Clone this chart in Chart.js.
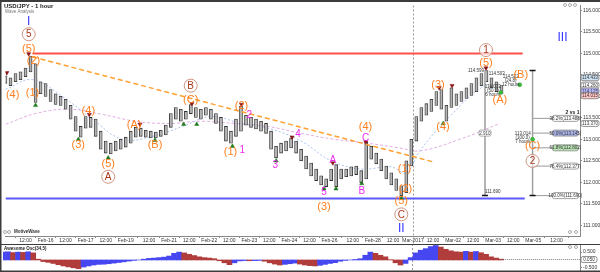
<!DOCTYPE html>
<html><head><meta charset="utf-8">
<script src="https://cdn.jsdelivr.net/npm/chart.js@4.4.1/dist/chart.umd.min.js"></script>
<style>
html,body{margin:0;padding:0;background:#fff;}
#wrap{position:relative;width:600px;height:272px;overflow:hidden;background:#fff;}
#c1{position:absolute;left:0;top:0;}
#c2{position:absolute;left:0;top:244px;}
</style></head><body>
<div id="wrap"><canvas id="c1" width="600" height="244"></canvas><canvas id="c2" width="600" height="28"></canvas></div>
<script>
// ---------- DATA ----------
// hourly bar index of each 3-hour candle
const barIdx = Array.from({length:100},(_,i)=>i*3);
const highs = [
114.48,114.43,114.53,114.57,114.66,114.94,114.76,114.34,114.30,114.16,
114.06,114.00,113.93,113.79,113.53,113.30,113.53,113.51,113.47,113.19,
112.96,112.91,112.96,113.00,113.05,113.19,113.28,113.26,113.21,113.19,
113.17,113.21,113.33,113.60,113.74,113.70,113.65,113.81,113.74,113.70,
113.74,113.70,113.60,113.51,113.30,113.19,113.47,113.77,113.56,113.51,
113.47,113.42,113.37,113.19,112.84,112.91,112.96,113.03,112.96,112.77,
112.61,112.45,112.31,112.15,112.08,112.31,112.41,112.31,112.31,112.36,
112.38,112.27,112.94,112.84,112.68,112.54,112.38,112.22,112.08,111.92,
112.50,113.00,113.53,113.74,113.83,113.93,114.11,114.16,113.79,114.20,
114.06,114.11,114.20,114.30,114.43,114.53,114.60,114.43,114.34,114.25];
const lows = [
114.30,114.25,114.34,114.39,114.46,114.57,113.86,114.06,114.00,113.88,
113.81,113.79,113.70,113.47,113.19,113.05,113.26,113.28,113.07,112.77,
112.68,112.66,112.73,112.77,112.82,112.91,113.05,113.07,113.05,113.03,
113.03,113.07,113.10,113.28,113.47,113.42,113.47,113.60,113.51,113.47,
113.56,113.47,113.37,113.19,112.96,112.91,113.07,113.19,113.33,113.28,
113.24,113.19,113.14,112.77,112.57,112.68,112.73,112.80,112.68,112.50,
112.31,112.15,112.04,111.94,111.90,112.04,111.90,112.08,112.13,112.15,
112.18,111.99,112.08,112.54,112.43,112.27,112.08,111.94,111.81,111.69,
111.76,112.38,112.96,113.42,113.56,113.65,113.79,113.70,113.42,113.74,
113.79,113.88,113.95,114.02,114.11,114.25,114.34,114.20,114.11,114.06];
const aoValues = [
0.50,0.52,0.47,0.50,0.48,0.52,0.45,0.05,-0.10,-0.15,
-0.22,-0.30,-0.38,-0.44,-0.50,-0.55,-0.45,-0.38,-0.32,-0.28,
-0.27,-0.24,-0.20,-0.16,-0.12,-0.07,-0.03,0.00,0.05,0.10,
0.12,0.15,0.18,0.25,0.42,0.50,0.45,0.36,0.28,0.20,
0.15,0.12,0.08,-0.05,-0.18,-0.30,-0.18,-0.06,-0.04,-0.05,
-0.04,-0.03,-0.08,-0.18,-0.26,-0.32,-0.28,-0.24,-0.20,-0.26,
-0.32,-0.36,-0.38,-0.34,-0.28,-0.22,-0.17,-0.08,-0.03,0.00,
0.03,0.08,0.30,0.50,0.42,0.30,0.20,0.02,-0.18,-0.32,
-0.22,0.15,0.45,0.62,0.72,0.85,0.92,0.82,0.68,0.58,
0.52,0.50,0.55,0.50,0.54,0.46,0.36,0.20,0.12,0.05];

// slow (pink) and fast (light blue) moving averages
const maSlowIdx = [0,18,38,58,78,98,117,137,157,177,197,217,236,248,272,296];
const maSlowVal = [113.35,113.60,113.70,113.58,113.42,113.37,113.42,113.37,113.30,113.14,113.00,112.91,112.80,112.73,113.00,113.37];
const maFastIdx = [0,16,34,52,70,88,106,123,141,159,177,195,213,231,240,248,266,287,297];
const maFastVal = [114.16,114.39,114.00,113.47,113.00,113.07,113.30,113.53,113.37,113.24,112.96,112.50,112.31,112.36,112.22,112.73,113.53,114.25,114.20];

// x-axis tick labels (hour index / text)
const tickIdx = [12,24,36,48,60,72,86,98,110,122,134,146,158,170,182,194,208,220,232,244,256,268,280,292,304,316,330];
const tickText = ['12:00','Feb-16','12:00','Feb-17','12:00','Feb-19','12:00','Feb-21','12:00','Feb-22','12:00','Feb-23','12:00','Feb-24','12:00','Feb-26','12:00','Feb-28','12:00','Mar-2017','12:00','Mar-02','12:00','Mar-03','12:00','Mar-05','12:00'];
const yTicks = [111,111.5,112,112.5,113,113.5,114,114.5,115,115.5,116];
const aoTicks = [-0.5,0.5];

// horizontal levels
const resistance = 115.00, support = 111.62;
const resistanceSpan = [16.3, 309.7];
const supportSpan = [0, 310.9];
// orange dashed trendline endpoints
const trendIdx = [16.3, 256.2];
const trendVal = [114.917, 112.474];
// fib retracement
const fibHigh = 114.60, fibLow = 111.69;
const fibNames = ['38.2%','50.0%','61.8%','76.4%','100.0%'];
const fibPrices = [113.488,113.145,112.802,112.377,111.690];
const fibColors = ['#ffffff','#aab4ea','#b9e3b3','#ffffff','#ffffff'];
const fibLineIdx = 315.6, fibEndIdx = 327.5, measureIdx = 287.1;

// pivot markers
const peakIdx = [0.8,13.9,50.2,80.5,111.6,141.3,171.6,196,215.7,259.7,267.4,287.7];
const peakVal = [114.55,114.99,113.58,113.35,113.83,113.81,113.05,112.45,112.94,114.20,114.25,114.66];
const lowIdx = [18,43.6,61.5,89.5,106.7,114.5,135.9,162.1,190.7,197.9,213.3,237.1,262.1];
const lowVal = [113.79,113.00,112.57,112.98,113.35,113.35,112.84,112.50,111.85,111.85,111.97,111.63,113.37];
const targetIdx = [296.6,307.9,315.6];
const targetVal = [114.09,114.27,113.00];

// wave labels: text, hour index, price, kind (o=orange, c=circled, m=magenta, r=roman)
const waveLabels = [
['I',13.9,115.75,'r'],['5',13.9,115.447,'c'],['(5)',13.9,115.124,'o'],['(2)',16.8,114.825,'o'],
['(4)',4.3,114.041,'o'],['(1)',16.2,114.087,'o'],['(4)',49.6,113.673,'o'],['(3)',43.6,112.889,'o'],
['(5)',61.5,112.428,'o'],['A',61.5,112.129,'c'],['(A)',77,113.35,'o'],['(B)',89.5,112.889,'o'],
['B',110.9,114.249,'c'],['(C)',110.9,113.926,'o'],['(2)',141.3,113.788,'o'],['2',146,113.58,'m'],
['(1)',134.7,112.728,'o'],['1',141.8,112.751,'m'],['3',161.5,112.405,'m'],['4',175.2,113.12,'m'],
['5',190.7,111.783,'m'],['A',196,112.52,'m'],['B',213.3,111.806,'m'],['C',215.6,113.027,'m'],
['(4)',215.6,113.304,'o'],['(3)',190.7,111.437,'o'],['(5)',237,111.576,'o'],['C',237,111.253,'c'],
['II',237,110.931,'r'],['(1)',238.9,112.313,'o'],['(2)',239.5,111.852,'o'],['(3)',259,114.272,'o'],
['(4)',262,113.304,'o'],['1',287.7,115.078,'c'],['(5)',287.7,114.778,'o'],['(A)',296,113.926,'o'],
['(B)',308.5,114.502,'o'],['(C)',315.6,112.866,'o'],['2',315.6,112.497,'c'],['III',333.5,115.378,'r']];
// small notes
const notes = [
['114.599',281.7,114.594],['114.503',294.2,114.525],
['114.033',291.8,114.226],['(50.1)',291.8,114.133],['6 hours',291.8,114.041],
['114.522',302.5,114.456],['(24.8)',302.5,114.364],['12 hours',302.5,114.272],
['113.014',309.7,113.119],['(100.0)',309.7,113.027],['7 hours',309.7,112.935],
['111.690',291.8,111.783]];
const rightMarks = [114.433,114.260,114.125,114.015,113.370];
const rightMarkColors = ['#cfe3f5','#ffffff','#b8b8ff','#ffc4c4','#ffffff'];

// ---------- HELPERS ----------
Chart.defaults.font.family = "'Liberation Sans', Arial, sans-serif";
const FONT = "'Liberation Sans', Arial, sans-serif";
function pts(xs, ys){ return xs.map((x,i)=>({x:x,y:ys[i]})); }
function rrect(ctx,x,y,w,h,r){ctx.beginPath();ctx.moveTo(x+r,y);ctx.lineTo(x+w-r,y);ctx.quadraticCurveTo(x+w,y,x+w,y+r);ctx.lineTo(x+w,y+h-r);ctx.quadraticCurveTo(x+w,y+h,x+w-r,y+h);ctx.lineTo(x+r,y+h);ctx.quadraticCurveTo(x,y+h,x,y+h-r);ctx.lineTo(x,y+r);ctx.quadraticCurveTo(x,y,x+r,y);ctx.closePath();}
const monthIdx = tickIdx[tickText.indexOf('Mar-2017')];

const fibSegs = [];
fibPrices.forEach(p=>{ fibSegs.push({x:fibLineIdx,y:p},{x:fibEndIdx,y:p},{x:fibEndIdx+0.01,y:null}); });

const annot = {
  id:'annot',
  beforeDatasetsDraw(chart){
    const ctx=chart.ctx,a=chart.chartArea;
    const xm=Math.round(chart.scales.x.getPixelForValue(monthIdx))+0.5;
    ctx.save();ctx.strokeStyle='#9a9a9a';ctx.lineWidth=1;ctx.setLineDash([2,2]);
    ctx.beginPath();ctx.moveTo(xm,a.top);ctx.lineTo(xm,chart.height);ctx.stroke();ctx.restore();
  },
  afterDatasetsDraw(chart){
    const ctx=chart.ctx, X=chart.scales.x, Y=chart.scales.y;
    ctx.save();
    // fib boxes
    fibPrices.forEach((p,i)=>{
      const x=X.getPixelForValue(fibEndIdx), y=Y.getPixelForValue(p);
      rrect(ctx,x,y-3,26,6,2);ctx.fillStyle=fibColors[i];ctx.fill();ctx.strokeStyle='#8a8a8a';ctx.lineWidth=0.8;ctx.stroke();
      ctx.fillStyle='#333';ctx.font='4.5px '+FONT;ctx.textAlign='center';ctx.textBaseline='middle';
      ctx.fillText(fibNames[i]+'('+p.toFixed(3)+')',x+13,y+0.3);
    });
    // measure box
    {const x=X.getPixelForValue(measureIdx), y=Y.getPixelForValue((fibHigh+fibLow)/2);
     rrect(ctx,x-6,y-3,12,6,1.5);ctx.fillStyle='#fff';ctx.fill();ctx.strokeStyle='#999';ctx.lineWidth=0.8;ctx.stroke();
     ctx.fillStyle='#444';ctx.font='4.5px '+FONT;ctx.textAlign='center';ctx.textBaseline='middle';
     ctx.fillText((fibHigh-fibLow).toFixed(3),x,y+0.3);}
    // notes
    ctx.fillStyle='#333';ctx.font='4.5px '+FONT;ctx.textAlign='center';ctx.textBaseline='middle';
    notes.forEach(([t,i,p])=>ctx.fillText(t,X.getPixelForValue(i),Y.getPixelForValue(p)));
    ctx.font='bold 5px '+FONT;ctx.fillStyle='#222';
    ctx.fillText('2 vs 1',X.getPixelForValue(339.5),Y.getPixelForValue(113.626));
    // wave labels
    waveLabels.forEach(([t,i,p,k])=>{
      const x=X.getPixelForValue(i), y=Y.getPixelForValue(p);
      ctx.textAlign='center';ctx.textBaseline='middle';
      if(k==='o'){ctx.fillStyle='#ff7f1e';ctx.font='11px '+FONT;}
      else if(k==='m'){ctx.fillStyle='#f02cf0';ctx.font='10px '+FONT;}
      else if(k==='c'){ctx.beginPath();ctx.arc(x,y,6.5,0,Math.PI*2);ctx.fillStyle='rgba(255,255,255,0.6)';ctx.fill();
        ctx.strokeStyle='#cc9480';ctx.lineWidth=1;ctx.stroke();ctx.fillStyle='#a8381a';ctx.font='10px '+FONT;}
      else {ctx.fillStyle='#3434ff';ctx.font='12px '+FONT;}
      ctx.fillText(t,x,y+0.5);
    });
    ctx.restore();
  },
  afterDraw(chart){
    const ctx=chart.ctx, Y=chart.scales.y, a=chart.chartArea;
    ctx.save();
    // right axis price boxes
    rightMarks.forEach((p,i)=>{
      const y=Y.getPixelForValue(p);
      rrect(ctx,a.right+1,y-3,18,6,2);ctx.fillStyle=rightMarkColors[i];ctx.fill();ctx.strokeStyle='#7a7a7a';ctx.lineWidth=0.8;ctx.stroke();
      ctx.fillStyle='#333';ctx.font='4.5px '+FONT;ctx.textAlign='center';ctx.textBaseline='middle';
      ctx.fillText(p.toFixed(3),a.right+10,y+0.3);
    });
    // titles
    ctx.textAlign='left';ctx.textBaseline='middle';
    ctx.fillStyle='#222';ctx.font='bold 6px '+FONT;ctx.fillText('USD/JPY - 1 hour',4,6);
    ctx.fillStyle='#777';ctx.font='4.5px '+FONT;ctx.fillText('Wave Analysis',5,12);
    ctx.fillStyle='#333';ctx.font='bold 4.5px '+FONT;ctx.fillText('MotiveWave',14,232);
    ctx.strokeStyle='#888';ctx.lineWidth=0.7;
    [5,9].forEach(cx=>{ctx.beginPath();ctx.arc(cx,232,1.5,0,Math.PI*2);ctx.stroke();});
    [565,570,575].forEach(cx=>{ctx.beginPath();ctx.arc(cx,5,1.5,0,Math.PI*2);ctx.stroke();});
    [570,576].forEach(cx=>{ctx.beginPath();ctx.arc(cx,232,1.5,0,Math.PI*2);ctx.stroke();});
    // frame
    ctx.fillStyle='#3c3c3c';ctx.fillRect(0,0,600,2);
    ctx.fillRect(0,0,1.5,244);
    ctx.restore();
  }
};

new Chart(document.getElementById('c1'),{
  type:'bar',
  data:{datasets:[
    {type:'scatter',data:pts(peakIdx,peakVal),pointStyle:'triangle',rotation:180,pointRadius:2.4,backgroundColor:'#8b1414',borderColor:'#8b1414',borderWidth:0.5,order:0},
    {type:'scatter',data:pts(lowIdx,lowVal),pointStyle:'triangle',pointRadius:2.4,backgroundColor:'#1f7a1f',borderColor:'#1f7a1f',borderWidth:0.5,order:0},
    {type:'scatter',data:pts(targetIdx,targetVal),pointStyle:'circle',pointRadius:2,backgroundColor:'#3cbc3c',borderColor:'#2a9a2a',borderWidth:0.5,order:0},
    {type:'line',data:[{x:resistanceSpan[0],y:resistance},{x:resistanceSpan[1],y:resistance}],borderColor:'#ff5050',borderWidth:2,pointRadius:0,order:1},
    {type:'line',data:[{x:supportSpan[0],y:support},{x:supportSpan[1],y:support}],borderColor:'#5a5aff',borderWidth:2,pointRadius:0,order:1},
    {type:'line',data:pts(trendIdx,trendVal),borderColor:'#ffa030',borderWidth:1.5,borderDash:[5,3],pointRadius:0,order:2},
    {type:'scatter',data:[{x:fibLineIdx,y:fibHigh},{x:fibLineIdx,y:fibLow},{x:measureIdx,y:fibLow}],pointStyle:'line',pointRadius:3,borderColor:'#111',borderWidth:1.5,order:2},
    {type:'line',data:[{x:measureIdx,y:fibHigh},{x:measureIdx,y:fibLow}],borderColor:'#b4b4b4',borderWidth:2,pointRadius:0,order:3},
    {type:'line',data:[{x:fibLineIdx,y:fibHigh},{x:fibLineIdx,y:fibLow}],borderColor:'#a0a0a0',borderWidth:1.5,pointRadius:0,order:3},
    {type:'line',data:fibSegs,borderColor:'#999',borderWidth:1,pointRadius:0,spanGaps:false,order:3},
    {type:'bar',data:barIdx.map((h,i)=>({x:h,y:[lows[i],highs[i]]})),backgroundColor:'#b4b4b4',borderColor:'#2e2e2e',borderWidth:0.8,borderSkipped:false,barThickness:3,grouped:false,order:5},
    {type:'line',data:pts(maFastIdx,maFastVal),borderColor:'#a9c2f2',borderWidth:1,borderDash:[2,2],pointRadius:0,tension:0.4,order:7},
    {type:'line',data:pts(maSlowIdx,maSlowVal),borderColor:'#e2aee2',borderWidth:1,borderDash:[3,2],pointRadius:0,tension:0.4,order:8}
  ]},
  options:{
    responsive:false,animation:false,
    layout:{padding:{top:3,left:3,right:0,bottom:0}},
    plugins:{legend:{display:false},tooltip:{enabled:false}},
    scales:{
      x:{type:'linear',min:0,max:344,offset:false,
        afterBuildTicks(s){s.ticks=tickIdx.map(v=>({value:v}));},
        ticks:{autoSkip:false,maxRotation:0,minRotation:0,padding:0,font:{size:5},color:'#333',callback:(v,i)=>tickText[i]},
        grid:{display:true,drawOnChartArea:false,drawTicks:true,tickLength:2,color:'#888'},
        border:{display:true,color:'#888'},
        afterFit(s){s.height=8;s.paddingLeft=0;s.paddingRight=0;}},
      y:{type:'linear',position:'right',min:110.75,max:116.115,
        afterBuildTicks(s){s.ticks=yTicks.map(v=>({value:v}));},
        ticks:{padding:1,font:{size:5},color:'#333',callback:v=>Number(v).toFixed(3)},
        grid:{display:true,drawOnChartArea:false,drawTicks:true,tickLength:2,color:'#888'},
        border:{display:true,color:'#888'},
        afterFit(s){s.width=20;s.paddingTop=0;s.paddingBottom=0;}}
    }
  },
  plugins:[annot]
});

const aoPlugin = {
  id:'ao',
  beforeDatasetsDraw(chart){
    const ctx=chart.ctx,a=chart.chartArea;
    const xm=Math.round(chart.scales.x.getPixelForValue(monthIdx))+0.5;
    ctx.save();ctx.strokeStyle='#9a9a9a';ctx.lineWidth=1;ctx.setLineDash([2,2]);
    ctx.beginPath();ctx.moveTo(xm,0);ctx.lineTo(xm,a.bottom);ctx.stroke();ctx.restore();
  },
  afterDraw(chart){
    const ctx=chart.ctx,a=chart.chartArea,X=chart.scales.x,Y=chart.scales.y;
    const last=aoValues[aoValues.length-1], y=Math.round(Y.getPixelForValue(last))+0.5;
    ctx.save();
    ctx.strokeStyle='#666';ctx.lineWidth=0.8;ctx.setLineDash([1,1]);
    ctx.beginPath();ctx.moveTo(X.getPixelForValue(barIdx[barIdx.length-1]),y);ctx.lineTo(a.right,y);ctx.stroke();
    ctx.setLineDash([]);
    rrect(ctx,a.right+1,y-3,16,6,2);ctx.fillStyle='#fff';ctx.fill();ctx.strokeStyle='#777';ctx.stroke();
    ctx.fillStyle='#333';ctx.font='4.5px '+FONT;ctx.textAlign='center';ctx.textBaseline='middle';
    ctx.fillText(last.toFixed(3),a.right+9,y+0.3);
    ctx.textAlign='left';ctx.font='bold 4.5px '+FONT;ctx.fillStyle='#222';
    ctx.fillText('Awesome Osc(34,5)',4,4.5);
    ctx.strokeStyle='#888';ctx.lineWidth=0.7;
    [570,576].forEach(cx=>{ctx.beginPath();ctx.arc(cx,3,1.5,0,Math.PI*2);ctx.stroke();});
    ctx.fillStyle='#3c3c3c';ctx.fillRect(0,0,600,1);ctx.fillRect(0,26.5,600,1.5);ctx.fillRect(0,0,1.5,28);
    ctx.restore();
  }
};

new Chart(document.getElementById('c2'),{
  type:'bar',
  data:{datasets:[{data:barIdx.map((h,i)=>({x:h,y:aoValues[i]})),
    backgroundColor:aoValues.map((v,i)=>(i===0||v>aoValues[i-1])?'#4747f2':'#b03c3c'),
    barThickness:5,borderWidth:0,grouped:false}]},
  options:{
    responsive:false,animation:false,
    layout:{padding:{top:1,left:3,right:0,bottom:1}},
    plugins:{legend:{display:false},tooltip:{enabled:false}},
    scales:{
      x:{type:'linear',min:0,max:344,offset:false,display:false},
      y:{type:'linear',position:'right',min:-0.7,max:0.95,
        afterBuildTicks(s){s.ticks=aoTicks.map(v=>({value:v}));},
        ticks:{padding:1,font:{size:5},color:'#333',callback:v=>Number(v).toFixed(3)},
        grid:{display:true,drawOnChartArea:false,drawTicks:true,tickLength:2,color:'#888'},
        border:{display:true,color:'#888'},
        afterFit(s){s.width=20;s.paddingTop=0;s.paddingBottom=0;}}
    }
  },
  plugins:[aoPlugin]
});
</script>
</body></html>
